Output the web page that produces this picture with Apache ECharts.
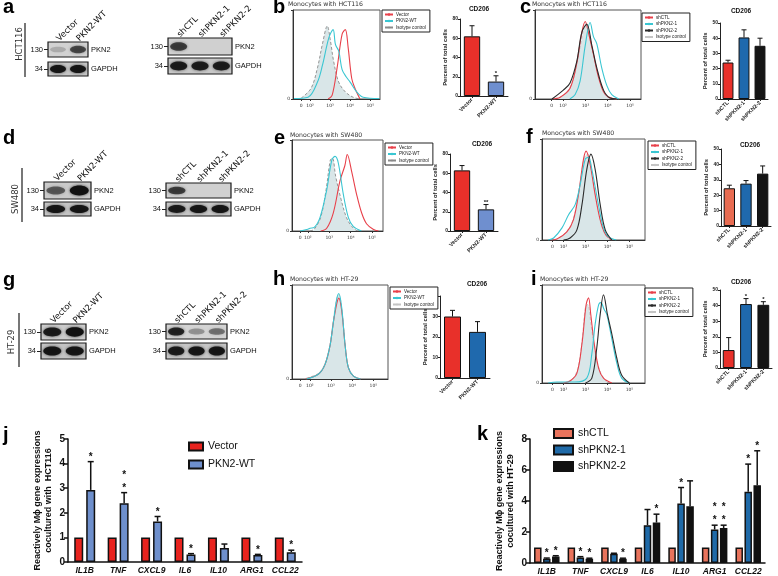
<!DOCTYPE html>
<html><head><meta charset="utf-8">
<script src="https://cdn.jsdelivr.net/npm/echarts@6/dist/echarts.min.js"></script>
<style>html,body{margin:0;padding:0;background:#fff}#c{width:778px;height:576px}</style>
</head><body><div id="c"></div>
<script>
// ================= DATA =================
// Western blot lanes and band intensities (0..1)
const laneOE = ['Vector', 'PKN2-WT'];
const laneKD = ['shCTL', 'shPKN2-1', 'shPKN2-2'];
const blotA_OE_PKN2 = [0.18, 0.65];
const blotA_OE_GAPDH = [0.95, 0.95];
const blotA_KD_PKN2 = [0.7, 0, 0];
const blotA_KD_GAPDH = [0.9, 0.9, 0.9];
const blotD_OE_PKN2 = [0.55, 1.0];
const blotD_OE_GAPDH = [0.95, 0.95];
const blotD_KD_PKN2 = [0.7, 0, 0];
const blotD_KD_GAPDH = [0.9, 0.95, 0.95];
const blotG_OE_PKN2 = [0.9, 1.0];
const blotG_OE_GAPDH = [0.95, 0.95];
const blotG_KD_PKN2 = [0.85, 0.3, 0.45];
const blotG_KD_GAPDH = [0.9, 0.95, 0.95];

// Flow cytometry histograms: [log10 position, % of mode]
const flowTickLabels = ['0', '10²', '10³', '10⁴', '10⁵'];
const flowB_Vector = [[2.9,0],[3.1,4],[3.35,35],[3.6,73],[3.76,78],[3.9,58],[4.08,23],[4.24,12],[4.49,0]];
const flowB_PKN2 = [[1.2,0.5],[1.9,2],[2.37,19],[2.62,38],[2.94,69],[3.15,78],[3.27,61],[3.43,54],[3.6,33],[3.8,25],[4.0,19],[4.33,8],[4.65,2],[5.45,0.5]];
const flowB_Iso = [[1.56,1],[2.05,12],[2.37,35],[2.62,62],[2.86,82],[3.02,65],[3.18,42],[3.43,19],[3.76,8],[4.15,2],[4.5,0]];
const flowC_shCTL = [[1.5,0],[1.87,2],[2.31,12],[2.61,40],[2.84,75],[2.99,87],[3.13,75],[3.36,50],[3.58,25],[3.81,8],[4.03,2],[4.4,0]];
const flowC_sh1 = [[2.3,0],[2.54,5],[2.76,20],[2.99,60],[3.21,86],[3.36,70],[3.51,62],[3.73,35],[3.96,15],[4.18,5],[4.5,0]];
const flowC_sh2 = [[1.5,0],[2.01,10],[2.31,18],[2.61,42],[2.84,75],[3.06,84],[3.29,60],[3.51,35],[3.81,10],[4.11,1],[4.4,0]];
const flowC_Iso = [[1.6,0],[2.0,4],[2.4,18],[2.7,50],[2.95,82],[3.05,85],[3.25,62],[3.5,35],[3.8,10],[4.1,2],[4.4,0]];
const flowE_Vector = [[2.6,0],[2.88,3],[3.19,20],[3.5,55],[3.73,72],[3.84,84],[4.05,65],[4.28,40],[4.51,20],[4.74,8],[5.05,2],[5.3,0]];
const flowE_PKN2 = [[1.64,0],[2.0,2],[2.1,3],[2.3,4],[2.57,15],[2.88,45],[3.12,78],[3.27,82],[3.42,75],[3.66,40],[3.89,15],[4.12,5],[4.5,0]];
const flowE_Iso = [[2.1,0],[2.3,2],[2.6,15],[2.85,45],[3.05,78],[3.15,80],[3.3,60],[3.55,35],[3.8,15],[4.05,5],[4.3,0]];
const flowF_shCTL = [[1.4,0],[1.7,1],[2.15,8],[2.45,20],[2.68,45],[2.91,80],[3.03,88],[3.21,75],[3.44,45],[3.67,20],[3.9,6],[4.2,0]];
const flowF_sh1 = [[1.3,0],[1.55,2],[1.93,12],[2.23,25],[2.53,35],[2.76,55],[2.99,80],[3.14,82],[3.29,70],[3.59,35],[3.82,12],[4.05,3],[4.4,0]];
const flowF_sh2 = [[2.0,0],[2.3,2],[2.61,10],[2.84,35],[3.06,70],[3.25,85],[3.44,70],[3.67,35],[3.9,10],[4.2,0]];
const flowF_Iso = [[1.6,0],[2.0,5],[2.4,18],[2.7,48],[2.95,82],[3.1,85],[3.3,65],[3.55,32],[3.8,10],[4.1,0]];
const flowH_Vector = [[1.8,0],[2.4,5],[2.71,15],[2.95,35],[3.11,60],[3.27,80],[3.37,86],[3.51,72],[3.67,35],[3.82,12],[4.06,3],[4.4,0]];
const flowH_PKN2 = [[1.84,0],[2.4,5],[2.71,15],[2.95,35],[3.11,60],[3.27,85],[3.37,91],[3.51,75],[3.67,35],[3.82,12],[4.06,3],[4.4,0]];
const flowH_Iso = [[1.84,1],[2.4,6],[2.71,16],[2.95,36],[3.11,62],[3.27,86],[3.37,90],[3.51,74],[3.67,36],[3.82,12],[4.06,3],[4.4,0]];
const flowI_shCTL = [[2.0,0],[2.3,2],[2.61,10],[2.84,40],[3.03,80],[3.14,87],[3.24,70],[3.4,40],[3.6,15],[3.82,5],[4.2,0]];
const flowI_sh1 = [[1.3,0],[1.7,1],[2.5,1],[3.06,5],[3.29,30],[3.44,60],[3.6,80],[3.7,82],[3.85,75],[3.97,70],[4.2,45],[4.43,20],[4.65,5],[5.0,0]];
const flowI_sh2 = [[3.0,0],[3.29,5],[3.51,35],[3.67,70],[3.82,90],[4.0,70],[4.2,50],[4.43,25],[4.65,8],[5.0,0]];
const flowI_Iso = [[2.0,0],[2.4,4],[2.65,15],[2.85,45],[3.0,78],[3.1,80],[3.25,60],[3.45,30],[3.7,10],[4.0,0]];

// CD206 bar charts (percent of total cells)
const cdB = [62, 15], cdBErr = [11, 6], cdBStars = ['', '*'];
const cdC = [24, 40.5, 35], cdCErr = [1.5, 5, 5], cdCStars = ['', '', ''];
const cdE = [63, 22.5], cdEErr = [5, 5], cdEStars = ['', '**'];
const cdF = [24.5, 27.5, 34], cdFErr = [2, 2, 5], cdFStars = ['', '', ''];
const cdH = [30, 22.5], cdHErr = [3, 5], cdHStars = ['', ''];
const cdI = [11.5, 41, 40.5], cdIErr = [8, 3.5, 2], cdIStars = ['', '*', '*'];

// Gene expression (j, k)
const geneCats = ['IL1B', 'TNF', 'CXCL9', 'IL6', 'IL10', 'ARG1', 'CCL22'];
const jVector = [1, 1, 1, 1, 1, 1, 1];
const jPKN2WT = [2.93, 2.39, 1.65, 0.3, 0.57, 0.28, 0.4];
const jPKN2WTErr = [1.15, 0.43, 0.2, 0.04, 0.16, 0.03, 0.08];
const jStars = ['*', '*\n*', '*', '*', '', '*', '*'];
const kShCTL = [1, 1, 1, 1, 1, 1, 1];
const kSh1 = [0.28, 0.36, 0.6, 2.44, 3.84, 2.16, 4.59];
const kSh1Err = [0.04, 0.05, 0.03, 1.01, 1.03, 0.28, 1.79];
const kSh2 = [0.42, 0.28, 0.28, 2.61, 3.66, 2.26, 5.02];
const kSh2Err = [0.05, 0.03, 0.03, 0.54, 1.64, 0.18, 2.22];
const kSh1Stars = ['*', '*', '', '', '*', '*\n*', '*'];
const kSh2Stars = ['*', '*', '*', '*', '', '*\n*', '*'];

// ================= BUILD =================
const FONT = 'Liberation Sans, Arial, sans-serif';
const VFONT = 'DejaVu Sans, Verdana, sans-serif';
const grid = [], xAxis = [], yAxis = [], series = [], legend = [], title = [], graphic = [];
const addGrid = g => { g.outerBoundsMode = 'none'; g.containLabel = false; grid.push(g); return grid.length - 1; };
const addX = a => { xAxis.push(a); return xAxis.length - 1; };
const addY = a => { yAxis.push(a); return yAxis.length - 1; };

function blotStrip(box, lanes, bands, mw, protein, showLanes, bg) {
  const gi = addGrid({left: box[0], top: box[1], width: box[2], height: box[3], show: true,
    backgroundColor: bg, borderColor: '#1a1a1a', borderWidth: 1.2});
  const xi = addX({gridIndex: gi, type: 'category', data: lanes, position: 'top',
    axisLine: {show: false}, axisTick: {show: false}, splitLine: {show: false},
    axisLabel: showLanes ? {show: true, rotate: -45, interval: 0, fontFamily: VFONT, fontSize: 8.5, color: '#111', margin: 2} : {show: false}});
  const yi = addY({gridIndex: gi, type: 'category', data: [mw], axisLine: {show: false}, splitLine: {show: false},
    axisTick: {show: true, alignWithLabel: true, length: 4, lineStyle: {color: '#222', width: 1}},
    axisLabel: {fontFamily: FONT, fontSize: 7.5, color: '#111', margin: 5}});
  addY({gridIndex: gi, type: 'category', data: [protein], position: 'right', axisLine: {show: false}, splitLine: {show: false},
    axisTick: {show: false}, axisLabel: {fontFamily: FONT, fontSize: 7.5, color: '#111', margin: 3}});
  series.push({type: 'custom', xAxisIndex: xi, yAxisIndex: yi, silent: true,
    data: bands.map((v, i) => [i, 0, v]),
    renderItem(params, api) {
      const v = api.value(2);
      if (v <= 0) return null;
      const c = api.coord([api.value(0), 0]);
      const s = api.size([1, 1]);
      return {type: 'ellipse', shape: {cx: c[0], cy: c[1], rx: s[0] * 0.4, ry: s[1] * (0.17 + 0.12 * v)},
        style: {fill: 'rgba(18,18,18,' + v + ')', shadowBlur: 3, shadowColor: 'rgba(18,18,18,' + (v * 0.8) + ')'}};
    }});
}

function rowLabel(text, x, cy, lx, ly1, ly2) {
  graphic.push({type: 'text', x: x, y: cy, rotation: Math.PI / 2,
    style: {text: text, fontFamily: VFONT, fontSize: 8.5, fill: '#333', align: 'center', verticalAlign: 'middle'}});
  graphic.push({type: 'line', shape: {x1: lx, y1: ly1, x2: lx, y2: ly2}, style: {stroke: '#777', lineWidth: 2}});
}

function panelLetter(t, left, top) {
  title.push({text: t, left: left, top: top, padding: 0,
    textStyle: {fontFamily: FONT, fontSize: 20, fontWeight: 'bold', color: '#000'}});
}
function panelTitle(t, left, top) {
  title.push({text: t, left: left, top: top, padding: 0,
    textStyle: {fontFamily: VFONT, fontSize: 6.2, fontWeight: 'normal', color: '#333'}});
}

function flowPanel(key, box, xr, ticks, curves, legPos) {
  const gi = addGrid({left: box[0], top: box[1], width: box[2], height: box[3], show: true,
    borderColor: '#555', borderWidth: 1});
  const fmt = v => { const i = ticks.findIndex(t => Math.abs(t - v) < 1e-6); return i >= 0 ? flowTickLabels[i] : ''; };
  const xi = addX({gridIndex: gi, type: 'value', min: xr[0], max: xr[1], splitLine: {show: false},
    axisLine: {lineStyle: {color: '#333', width: 1}},
    axisTick: {customValues: ticks, length: 2, lineStyle: {color: '#333'}},
    axisLabel: {customValues: ticks, formatter: fmt, fontFamily: VFONT, fontSize: 4.5, color: '#333', margin: 4}});
  const yi = addY({gridIndex: gi, type: 'value', min: 0, max: 100, interval: 100, splitLine: {show: false},
    axisLine: {show: true, lineStyle: {color: '#333', width: 1}}, axisTick: {show: true, length: 2},
    axisLabel: {formatter: v => v === 0 ? '0' : '', fontFamily: VFONT, fontSize: 4.5, color: '#333', margin: 3}});
  const names = [];
  curves.forEach((c, k) => {
    const name = c.name + '#' + key;
    if (!c.fill) names.push(name);
    const s = {type: 'line', name: name, xAxisIndex: xi, yAxisIndex: yi, data: c.data, symbol: 'none',
      smooth: 0.35, z: c.fill ? 1 : 3 + k, silent: true,
      lineStyle: {color: c.color, width: c.fill ? 0.9 : 1.1, type: c.dashed ? [3, 2] : 'solid'},
      itemStyle: {color: c.color}};
    if (c.fill) s.areaStyle = {color: c.fill, opacity: 1};
    series.push(s);
  });
  curves.forEach(c => { if (c.fill) names.push(c.name + '#' + key); });
  legend.push({orient: 'vertical', left: legPos[0], top: legPos[1], data: names, selectedMode: false,
    formatter: n => n.split('#')[0], itemWidth: 8, itemHeight: 3, itemGap: 1.5, padding: [2, 4, 2, 2],
    borderColor: '#222', borderWidth: 1, backgroundColor: '#fff',
    textStyle: {fontFamily: FONT, fontSize: 4.6, color: '#222', padding: [0, 0, 0, -2]}});
}

function errSeries(xi, yi, vals, errs, stars, offset, capW, lw, starSize, starLH, starGap) {
  return {type: 'custom', xAxisIndex: xi, yAxisIndex: yi, z: 10, silent: true,
    data: vals.map((v, i) => [i, v, v + errs[i]]),
    renderItem(params, api) {
      const i = params.dataIndex;
      const b = api.coord([api.value(0), api.value(1)]);
      const t = api.coord([api.value(0), api.value(2)]);
      const x = b[0] + offset;
      const ch = [];
      if (api.value(2) > api.value(1)) {
        ch.push({type: 'line', shape: {x1: x, y1: b[1], x2: x, y2: t[1]}, style: {stroke: '#111', lineWidth: lw}});
        ch.push({type: 'line', shape: {x1: x - capW / 2, y1: t[1], x2: x + capW / 2, y2: t[1]}, style: {stroke: '#111', lineWidth: lw}});
      }
      if (stars[i]) {
        ch.push({type: 'text', x: x, y: t[1] - starGap,
          style: {text: stars[i], fill: '#111', fontFamily: FONT, fontSize: starSize, fontWeight: 'bold',
            align: 'center', verticalAlign: 'bottom', lineHeight: starLH}});
      }
      return {type: 'group', children: ch};
    }};
}

function smallBar(box, cats, vals, errs, stars, colors, ymax, step, titleX, titleY) {
  const gi = addGrid({left: box[0], top: box[1], width: box[2], height: box[3]});
  const xi = addX({gridIndex: gi, type: 'category', data: cats,
    axisLine: {lineStyle: {color: '#222', width: 1}},
    axisTick: {show: true, alignWithLabel: true, length: 2, lineStyle: {color: '#222'}},
    axisLabel: {rotate: 45, interval: 0, fontFamily: FONT, fontSize: 5.5, fontWeight: 'bold', color: '#222', margin: 3}});
  const yi = addY({gridIndex: gi, type: 'value', min: 0, max: ymax, interval: step, splitLine: {show: false},
    name: 'Percent of total cells', nameLocation: 'middle', nameGap: 11,
    nameTextStyle: {fontFamily: FONT, fontSize: 5.8, fontWeight: 'bold', color: '#222'},
    axisLine: {show: true, lineStyle: {color: '#222', width: 1}}, axisTick: {show: true, length: 2, lineStyle: {color: '#222'}},
    axisLabel: {fontFamily: FONT, fontSize: 5, fontWeight: 'bold', color: '#222', margin: 2}});
  series.push({type: 'bar', xAxisIndex: xi, yAxisIndex: yi, barWidth: '68%', silent: true,
    data: vals.map((v, i) => ({value: v, itemStyle: {color: colors[i]}})),
    itemStyle: {borderColor: '#111', borderWidth: 1}});
  series.push(errSeries(xi, yi, vals, errs, stars, 0, 5, 1, 6, 6, -1));
  title.push({text: 'CD206', left: titleX, top: titleY, textAlign: 'center', padding: 0,
    textStyle: {fontFamily: FONT, fontSize: 6.5, fontWeight: 'bold', color: '#111'}});
}

function bigBar(box, ymax, step, axisName, groups, barW, gapPct, offsets, legPos, legW, legH, legGap) {
  const gi = addGrid({left: box[0], top: box[1], width: box[2], height: box[3]});
  const xi = addX({gridIndex: gi, type: 'category', data: geneCats,
    axisLine: {lineStyle: {color: '#111', width: 1.5}}, axisTick: {show: false},
    axisLabel: {interval: 0, fontFamily: FONT, fontSize: 8.5, fontWeight: 'bold', fontStyle: 'italic', color: '#111', margin: 4}});
  const yi = addY({gridIndex: gi, type: 'value', min: 0, max: ymax, interval: step, splitLine: {show: false},
    name: axisName, nameLocation: 'middle', nameGap: 14,
    nameTextStyle: {fontFamily: FONT, fontSize: 9, fontWeight: 'bold', color: '#111', lineHeight: 11},
    axisLine: {show: true, lineStyle: {color: '#111', width: 1.5}},
    axisTick: {show: true, length: 4, lineStyle: {color: '#111', width: 1.5}},
    axisLabel: {fontFamily: FONT, fontSize: 10, fontWeight: 'bold', color: '#111', margin: 3}});
  groups.forEach((g, k) => {
    series.push({type: 'bar', name: g.name, xAxisIndex: xi, yAxisIndex: yi, data: g.vals, barWidth: barW, barGap: gapPct,
      silent: true, itemStyle: {color: g.color, borderColor: '#111', borderWidth: 1.5}});
    series.push(errSeries(xi, yi, g.vals, g.errs, g.stars, offsets[k], 6, 1.5, 10, 13, -2));
  });
  legend.push({orient: 'vertical', left: legPos[0], top: legPos[1], data: groups.map(g => g.name), selectedMode: false,
    icon: 'rect', itemWidth: legW, itemHeight: legH, itemGap: legGap, padding: 0,
    textStyle: {fontFamily: FONT, fontSize: 10.5, color: '#111'}});
}

// ---- Panel letters and titles
panelLetter('a', 3, -3); panelLetter('b', 273, -3); panelLetter('c', 520, -3);
panelLetter('d', 3, 128); panelLetter('e', 274, 128); panelLetter('f', 526, 127);
panelLetter('g', 3, 270); panelLetter('h', 273, 269); panelLetter('i', 531, 269);
panelLetter('j', 3, 425); panelLetter('k', 477, 424);
panelTitle('Monocytes with HCT116', 288, 1);
panelTitle('Monocytes with HCT116', 532, 1);
panelTitle('Monocytes with SW480', 290, 132);
panelTitle('Monocytes with SW480', 542, 130);
panelTitle('Monocytes with HT-29', 290, 276);
panelTitle('Monocytes with HT-29', 540, 276);

// ---- Western blots
rowLabel('HCT116', 20, 44, 25, 23, 77);
rowLabel('SW480', 16, 199, 22, 168, 222);
rowLabel('HT-29', 12, 342, 19, 313, 367);
blotStrip([48, 42, 40, 15], laneOE, blotA_OE_PKN2, '130', 'PKN2', true, '#d2d2d2');
blotStrip([48, 62, 40, 14], laneOE, blotA_OE_GAPDH, '34', 'GAPDH', false, '#c6c6c6');
blotStrip([168, 38, 64, 17], laneKD, blotA_KD_PKN2, '130', 'PKN2', true, '#d0d0d0');
blotStrip([168, 58, 64, 16], laneKD, blotA_KD_GAPDH, '34', 'GAPDH', false, '#c8c8c8');
blotStrip([44, 182, 47, 17], laneOE, blotD_OE_PKN2, '130', 'PKN2', true, '#cacaca');
blotStrip([44, 202, 47, 14], laneOE, blotD_OE_GAPDH, '34', 'GAPDH', false, '#c4c4c4');
blotStrip([166, 183, 65, 15], laneKD, blotD_KD_PKN2, '130', 'PKN2', true, '#d0d0d0');
blotStrip([166, 202, 65, 14], laneKD, blotD_KD_GAPDH, '34', 'GAPDH', false, '#c6c6c6');
blotStrip([41, 324, 45, 16], laneOE, blotG_OE_PKN2, '130', 'PKN2', true, '#cccccc');
blotStrip([41, 343, 45, 16], laneOE, blotG_OE_GAPDH, '34', 'GAPDH', false, '#c4c4c4');
blotStrip([166, 324, 61, 15], laneKD, blotG_KD_PKN2, '130', 'PKN2', true, '#d4d4d4');
blotStrip([166, 343, 61, 16], laneKD, blotG_KD_GAPDH, '34', 'GAPDH', false, '#c6c6c6');

// ---- Flow histograms
const RED = '#e8404a', CYAN = '#3ac6d2', BLK = '#2a2a2a', ISO = '#8a8a8a', ISOL = '#c4c4c4', FILL = '#d9e6e8';
flowPanel('b', [293, 10, 87, 89], [1.15, 5.49], [1.56, 2, 3, 4, 5], [
  {name: 'Isotype control', data: flowB_Iso, color: ISO, dashed: true, fill: FILL},
  {name: 'Vector', data: flowB_Vector, color: RED},
  {name: 'PKN2-WT', data: flowB_PKN2, color: CYAN}], [382, 10]);
flowPanel('c', [535, 10, 106, 89], [0.74, 5.49], [1.49, 2, 3, 4, 5], [
  {name: 'Isotype control', data: flowC_Iso, color: ISOL, dashed: true, fill: FILL},
  {name: 'shCTL', data: flowC_shCTL, color: RED},
  {name: 'shPKN2-1', data: flowC_sh1, color: CYAN},
  {name: 'shPKN2-2', data: flowC_sh2, color: BLK}], [642, 13]);
flowPanel('e', [292, 140, 91, 91], [1.26, 5.51], [1.64, 2, 3, 4, 5], [
  {name: 'Isotype control', data: flowE_Iso, color: ISO, dashed: true, fill: FILL},
  {name: 'Vector', data: flowE_Vector, color: RED},
  {name: 'PKN2-WT', data: flowE_PKN2, color: CYAN}], [385, 143]);
flowPanel('f', [542, 139, 103, 101], [1.02, 5.71], [1.5, 2, 3, 4, 5], [
  {name: 'Isotype control', data: flowF_Iso, color: ISOL, dashed: true, fill: FILL},
  {name: 'shCTL', data: flowF_shCTL, color: RED},
  {name: 'shPKN2-1', data: flowF_sh1, color: CYAN},
  {name: 'shPKN2-2', data: flowF_sh2, color: BLK}], [648, 141]);
flowPanel('h', [292, 285, 96, 94], [1.16, 5.69], [1.55, 2, 3, 4, 5], [
  {name: 'Isotype control', data: flowH_Iso, color: ISOL, dashed: true, fill: FILL},
  {name: 'Vector', data: flowH_Vector, color: RED},
  {name: 'PKN2-WT', data: flowH_PKN2, color: CYAN}], [390, 287]);
flowPanel('i', [542, 285, 103, 98], [1.02, 5.71], [1.5, 2, 3, 4, 5], [
  {name: 'Isotype control', data: flowI_Iso, color: ISOL, dashed: true, fill: FILL},
  {name: 'shCTL', data: flowI_shCTL, color: RED},
  {name: 'shPKN2-1', data: flowI_sh1, color: CYAN},
  {name: 'shPKN2-2', data: flowI_sh2, color: BLK}], [645, 288]);

// ---- CD206 bar charts
const BR = '#e8302a', BL = '#6f8fcf', BD = '#1f69ad', BK = '#151515', SAL = '#e86c52';
smallBar([460, 19, 48, 77], laneOE, cdB, cdBErr, cdBStars, [BR, BL], 80, 20, 479, 6);
smallBar([720, 23, 48, 76], laneKD, cdC, cdCErr, cdCStars, [BR, BD, BK], 50, 10, 741, 8);
smallBar([450, 154, 48, 77], laneOE, cdE, cdEErr, cdEStars, [BR, BL], 80, 20, 482, 141);
smallBar([721, 149, 50, 77], laneKD, cdF, cdFErr, cdFStars, [SAL, BD, BK], 50, 10, 750, 142);
smallBar([440, 296, 50, 82], laneOE, cdH, cdHErr, cdHStars, [BR, BD], 40, 10, 477, 281);
smallBar([720, 290, 52, 78], laneKD, cdI, cdIErr, cdIStars, [BR, BD, BK], 50, 10, 741, 279);

// ---- Gene expression charts
bigBar([68, 439, 234, 123], 5, 1, 'Reactively M\u03d5 gene expressions\ncocultured with  HCT116', [
  {name: 'Vector', vals: jVector, errs: jVector.map(() => 0), stars: jVector.map(() => ''), color: '#e8231e'},
  {name: 'PKN2-WT', vals: jPKN2WT, errs: jPKN2WTErr, stars: jStars, color: '#6e8fcc'}],
  9, '33%', [-6, 6], [188, 441], 14, 8, 7);
bigBar([530, 439, 235, 124], 8, 2, 'Reactively M\u03d5 gene expressions\ncocultured with HT-29', [
  {name: 'shCTL', vals: kShCTL, errs: kShCTL.map(() => 0), stars: kShCTL.map(() => ''), color: '#e8735c'},
  {name: 'shPKN2-1', vals: kSh1, errs: kSh1Err, stars: kSh1Stars, color: '#1f6aa8'},
  {name: 'shPKN2-2', vals: kSh2, errs: kSh2Err, stars: kSh2Stars, color: '#111111'}],
  7.5, '20%', [-9, 0, 9], [553, 428], 19, 9, 5.5);

const chart = echarts.init(document.getElementById('c'), null, {renderer: 'canvas'});
chart.setOption({animation: false, backgroundColor: '#fff', textStyle: {fontFamily: FONT},
  grid, xAxis, yAxis, series, legend, title, graphic});
</script>
</body></html>
